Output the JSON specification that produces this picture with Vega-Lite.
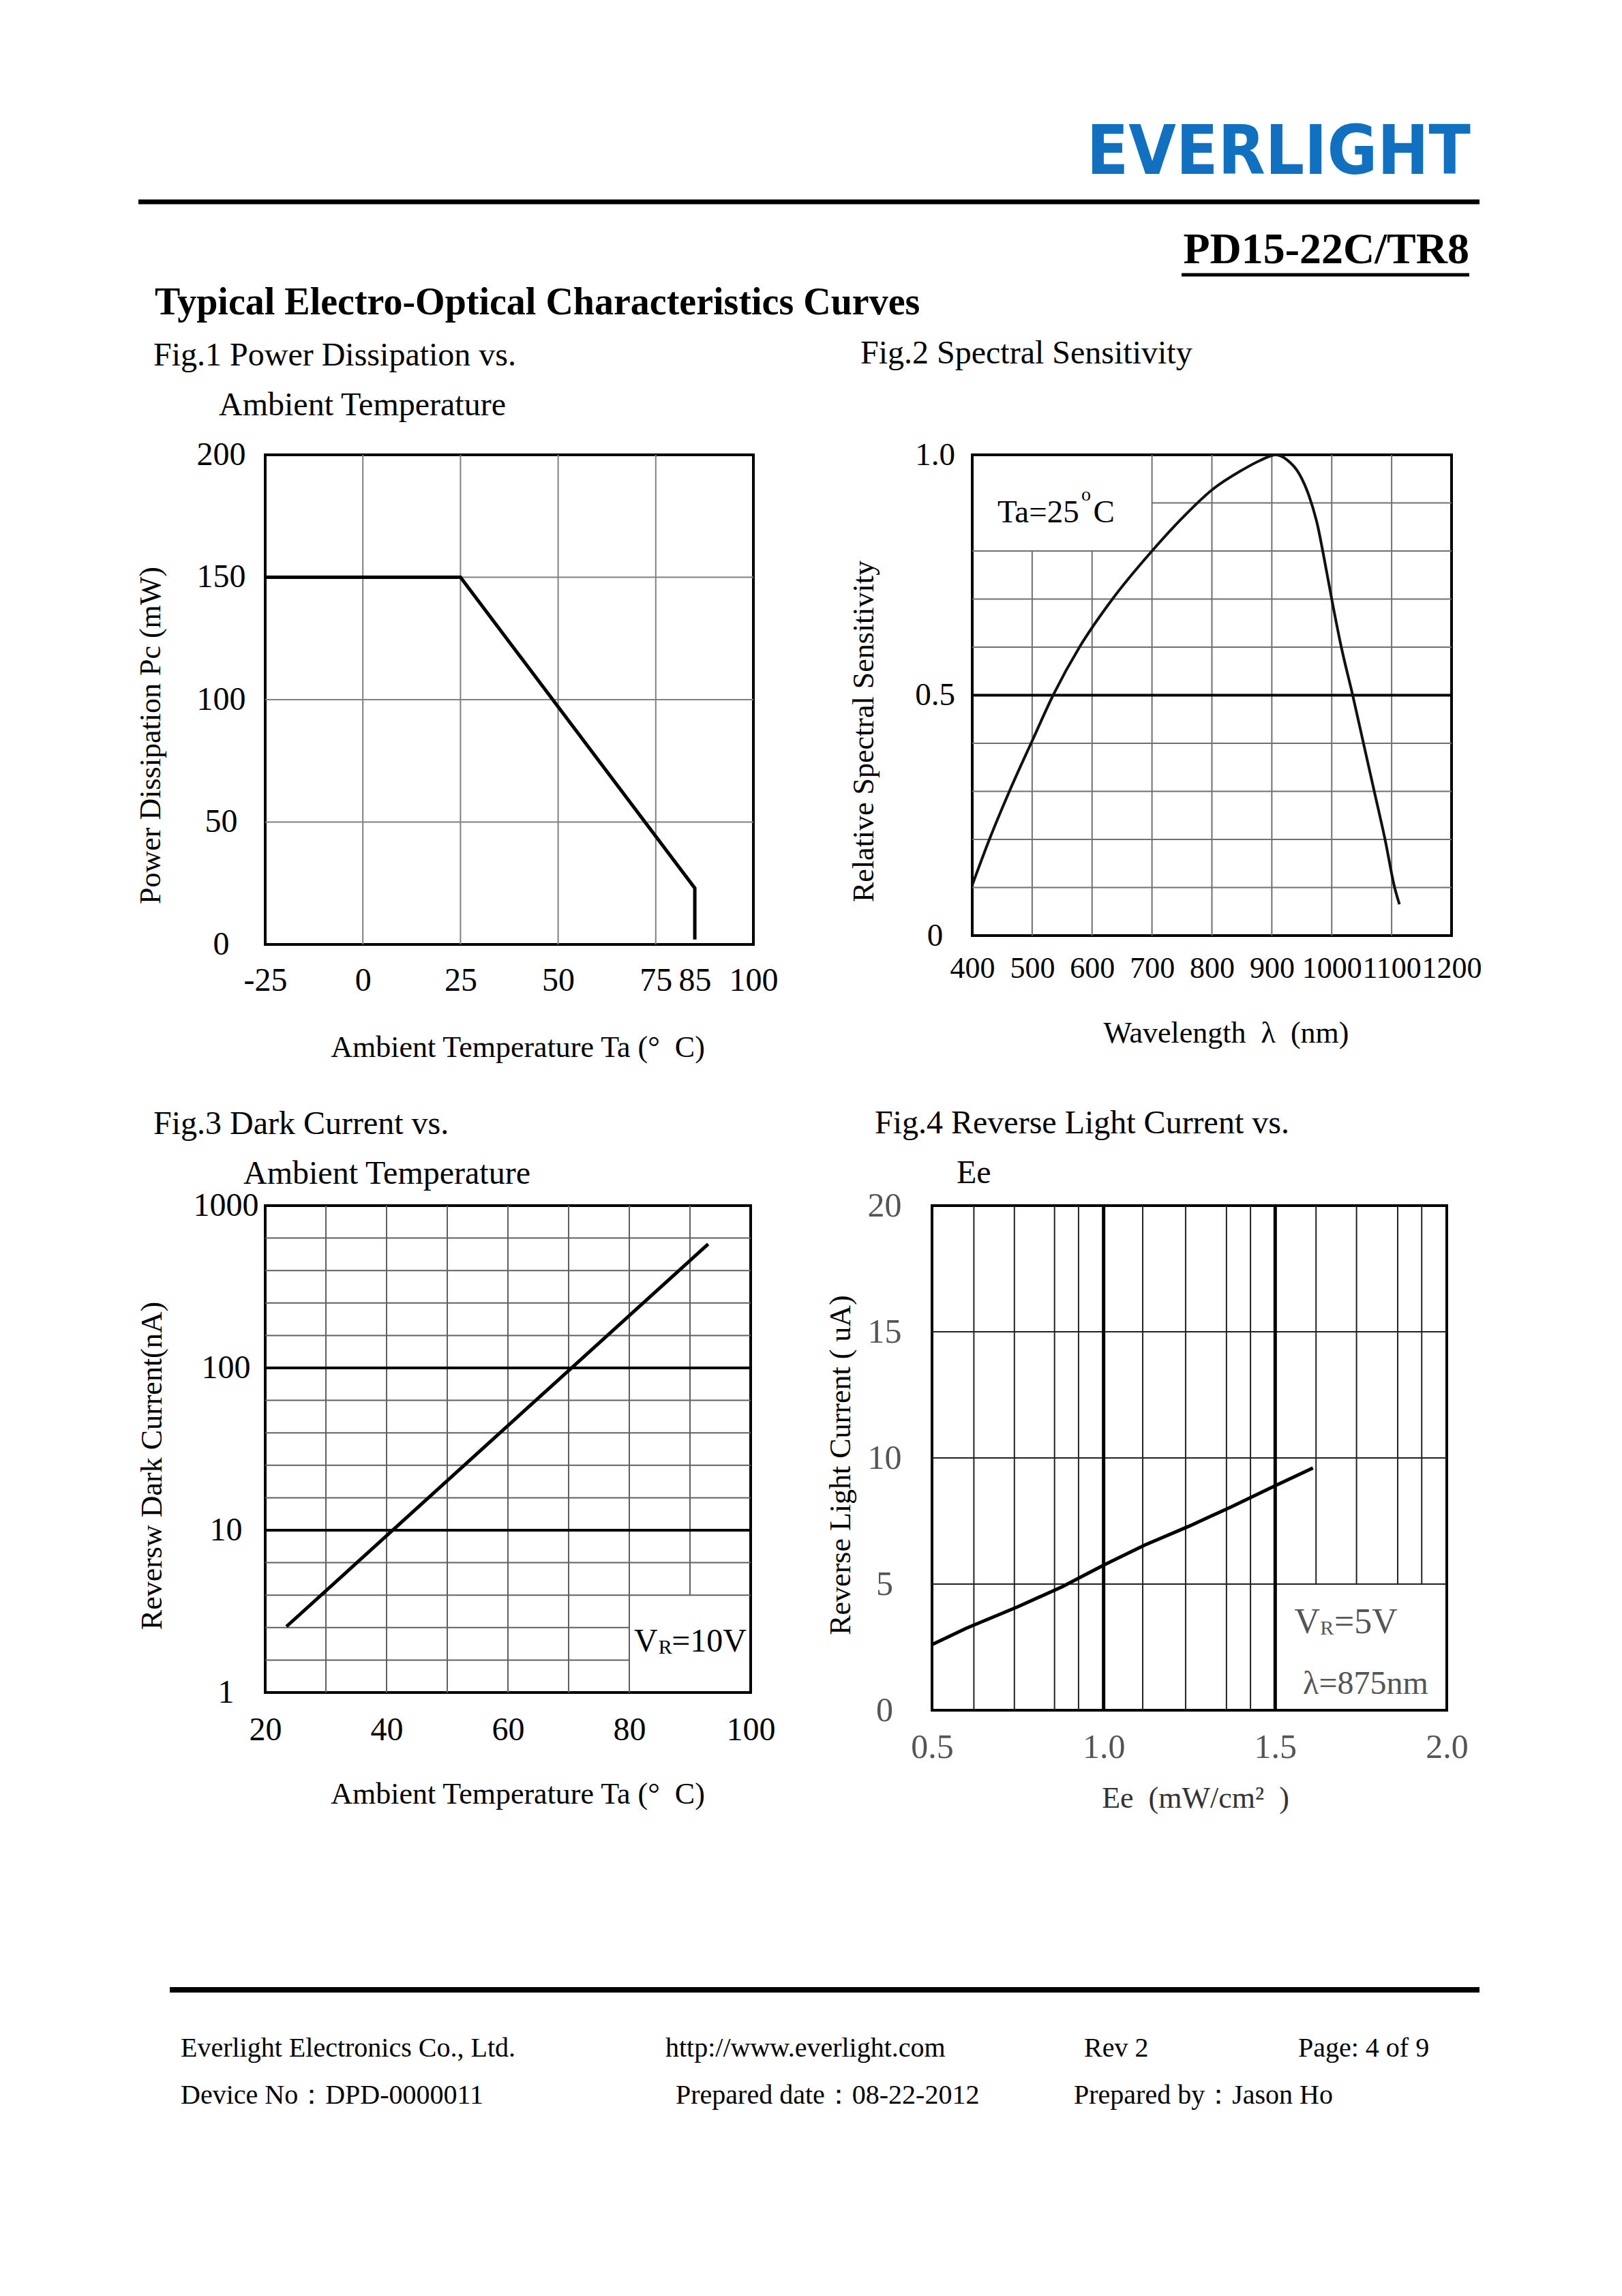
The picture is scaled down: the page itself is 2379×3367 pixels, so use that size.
{
  "$schema": "https://vega.github.io/schema/vega-lite/v6.json",
  "background": "white",
  "padding": {"left": 197, "top": 160, "right": 10, "bottom": 10},
  "spacing": 13,
  "config": {
    "view": {"stroke": null},
    "font": "Liberation Serif",
    "axis": {"domain": false, "ticks": false, "tickSize": 0, "grid": false, "labelFont": "Liberation Serif", "titleFont": "Liberation Serif", "labelColor": "black", "titleColor": "black", "titleFontWeight": "normal", "labelFontSize": 48, "titleFontSize": 44, "labelFlush": false, "labelOverlap": false, "labelBound": false},
    "title": {"font": "Liberation Serif", "fontSize": 48, "fontWeight": "normal", "anchor": "start", "frame": "group", "color": "black", "lineHeight": 73, "baseline": "bottom"},
    "text": {"font": "Liberation Serif"}
  },
  "vconcat": [
    {
      "width": 1781, "height": 320,
      "layer": [
        {"data": {"values": [{"t": "EVERLIGHT"}]},
         "mark": {"type": "text", "align": "right", "baseline": "alphabetic", "font": "Liberation Sans Narrow, DejaVu Sans Condensed, sans-serif", "fontWeight": "bold", "fontSize": 100, "color": "#1170c0"},
         "encoding": {"text": {"field": "t"},
           "x": {"datum": 1768, "scale": {"domain": [0, 1781], "nice": false, "zero": false}, "axis": null},
           "y": {"datum": 95, "scale": {"domain": [0, 320], "nice": false, "zero": false, "reverse": true}, "axis": null}}},
        {"data": {"values": [{"t": "top rule"}]},
         "mark": {"type": "rule", "color": "black", "strokeWidth": 7},
         "encoding": {"x": {"datum": -186}, "x2": {"datum": 1781}, "y": {"datum": 136}}},
        {"data": {"values": [{"t": "PD15-22C/TR8"}]},
         "mark": {"type": "text", "align": "right", "baseline": "alphabetic", "font": "Liberation Serif", "fontWeight": "bold", "fontSize": 64, "color": "black"},
         "encoding": {"text": {"field": "t"}, "x": {"datum": 1766}, "y": {"datum": 226}}},
        {"data": {"values": [{"t": "underline"}]},
         "mark": {"type": "rule", "color": "black", "strokeWidth": 5},
         "encoding": {"x": {"datum": 1344}, "x2": {"datum": 1766}, "y": {"datum": 243}}},
        {"data": {"values": [{"t": "Typical Electro-Optical Characteristics Curves"}]},
         "mark": {"type": "text", "align": "left", "baseline": "alphabetic", "font": "Liberation Serif", "fontWeight": "bold", "fontSize": 56, "color": "black"},
         "encoding": {"text": {"field": "t"}, "x": {"datum": -162}, "y": {"datum": 301}}}
      ]
    },
    {
      "spacing": 62,
      "vconcat": [
        {
          "spacing": 100,
          "hconcat": [
            {
              "width": 716, "height": 718,
              "view": {"stroke": "black", "strokeWidth": 4},
              "title": {"text": ["Fig.1 Power Dissipation vs.", "\u200b\u00a0\u00a0\u00a0\u00a0\u00a0\u00a0\u00a0\u00a0Ambient Temperature"], "dx": -164, "offset": 24},
              "layer": [
                {"data": {"values": [{"x": 0}, {"x": 25}, {"x": 50}, {"x": 75}]},
                 "mark": {"type": "rule", "color": "#808080", "strokeWidth": 2},
                 "encoding": {"x": {"field": "x", "type": "quantitative", "scale": {"domain": [-25, 100], "nice": false, "zero": false},
                   "axis": {"title": "Ambient Temperature Ta (\u00b0\u00a0\u00a0C)", "values": [-25, 0, 25, 50, 75, 85, 100], "labelExpr": "'' + datum.value", "labelPadding": 29, "titlePadding": 52, "titleX": 370}}}},
                {"data": {"values": [{"y": 50}, {"y": 100}, {"y": 150}]},
                 "mark": {"type": "rule", "color": "#808080", "strokeWidth": 2},
                 "encoding": {"y": {"field": "y", "type": "quantitative", "scale": {"domain": [0, 200], "nice": false, "zero": false},
                   "axis": {"title": "Power Dissipation Pc (mW)", "values": [0, 50, 100, 150, 200], "labelAlign": "center", "labelPadding": 65, "titlePadding": 45, "titleY": 411}}}},
                {"data": {"values": [{"i": 1, "x": -25, "y": 150}, {"i": 2, "x": 25, "y": 150}, {"i": 3, "x": 85, "y": 23}, {"i": 4, "x": 85, "y": 2}]},
                 "mark": {"type": "line", "color": "black", "strokeWidth": 5},
                 "encoding": {"x": {"field": "x", "type": "quantitative", "scale": {"domain": [-25, 100], "nice": false, "zero": false}},
                   "y": {"field": "y", "type": "quantitative", "scale": {"domain": [0, 200], "nice": false, "zero": false}},
                   "order": {"field": "i"}}}
              ]
            },
            {
              "width": 703, "height": 705,
              "view": {"stroke": "black", "strokeWidth": 4},
              "title": {"text": "Fig.2 Spectral Sensitivity", "dx": -164, "offset": 100},
              "layer": [
                {"data": {"values": [{"x": 500, "y": 0, "y2": 0.8}, {"x": 600, "y": 0, "y2": 0.8}, {"x": 700, "y": 0, "y2": 1}, {"x": 800, "y": 0, "y2": 1}, {"x": 900, "y": 0, "y2": 1}, {"x": 1000, "y": 0, "y2": 1}, {"x": 1100, "y": 0, "y2": 1}]},
                 "mark": {"type": "rule", "color": "#707070", "strokeWidth": 2},
                 "encoding": {"x": {"field": "x", "type": "quantitative", "scale": {"domain": [400, 1200], "nice": false, "zero": false},
                   "axis": {"title": "Wavelength\u00a0\u00a0\u03bb\u00a0\u00a0(nm)", "values": [400, 500, 600, 700, 800, 900, 1000, 1100, 1200], "format": "d", "labelFontSize": 44, "labelPadding": 26, "titlePadding": 51, "titleX": 372}},
                   "y": {"field": "y", "type": "quantitative", "scale": {"domain": [0, 1], "nice": false, "zero": false},
                   "axis": {"title": "Relative Spectral Sensitivity", "values": [0, 0.5, 1], "labelExpr": "datum.value === 0 ? '0' : format(datum.value, '.1f')", "labelFontSize": 47, "labelAlign": "center", "labelPadding": 55, "titlePadding": 52, "titleY": 405}},
                   "y2": {"field": "y2"}}},
                {"data": {"values": [{"y": 0.1, "x": 400, "x2": 1200}, {"y": 0.2, "x": 400, "x2": 1200}, {"y": 0.3, "x": 400, "x2": 1200}, {"y": 0.4, "x": 400, "x2": 1200}, {"y": 0.6, "x": 400, "x2": 1200}, {"y": 0.7, "x": 400, "x2": 1200}, {"y": 0.8, "x": 400, "x2": 1200}, {"y": 0.9, "x": 700, "x2": 1200}]},
                 "mark": {"type": "rule", "color": "#707070", "strokeWidth": 2},
                 "encoding": {"y": {"field": "y", "type": "quantitative", "scale": {"domain": [0, 1], "nice": false, "zero": false}},
                   "x": {"field": "x", "type": "quantitative", "scale": {"domain": [400, 1200], "nice": false, "zero": false}},
                   "x2": {"field": "x2"}}},
                {"data": {"values": [{"y": 0.5}]},
                 "mark": {"type": "rule", "color": "black", "strokeWidth": 4},
                 "encoding": {"y": {"field": "y", "type": "quantitative", "scale": {"domain": [0, 1], "nice": false, "zero": false}}}},
                {"data": {"values": [
                  {"x": 400, "y": 0.105}, {"x": 428.6, "y": 0.2}, {"x": 462, "y": 0.3}, {"x": 500, "y": 0.405}, {"x": 535, "y": 0.5}, {"x": 579, "y": 0.6}, {"x": 634, "y": 0.7}, {"x": 700, "y": 0.8}, {"x": 750, "y": 0.868}, {"x": 800, "y": 0.927}, {"x": 850, "y": 0.968}, {"x": 880, "y": 0.988}, {"x": 907, "y": 1.0}, {"x": 925, "y": 0.99}, {"x": 946, "y": 0.96}, {"x": 962, "y": 0.915}, {"x": 977, "y": 0.85}, {"x": 985, "y": 0.8}, {"x": 1000, "y": 0.7}, {"x": 1016, "y": 0.6}, {"x": 1035, "y": 0.5}, {"x": 1053, "y": 0.4}, {"x": 1071, "y": 0.3}, {"x": 1089, "y": 0.2}, {"x": 1105, "y": 0.1}, {"x": 1113, "y": 0.065}]},
                 "mark": {"type": "line", "color": "#111111", "strokeWidth": 4, "interpolate": "monotone"},
                 "encoding": {"x": {"field": "x", "type": "quantitative", "scale": {"domain": [400, 1200], "nice": false, "zero": false}},
                   "y": {"field": "y", "type": "quantitative", "scale": {"domain": [0, 1], "nice": false, "zero": false}}}},
                {"data": {"values": [{"t": "Ta=25"}]},
                 "mark": {"type": "text", "align": "left", "baseline": "alphabetic", "fontSize": 47, "color": "black"},
                 "encoding": {"text": {"field": "t"}, "x": {"datum": 442}, "y": {"datum": 0.86}}},
                {"data": {"values": [{"t": "o"}]},
                 "mark": {"type": "text", "align": "left", "baseline": "alphabetic", "fontSize": 28, "color": "black"},
                 "encoding": {"text": {"field": "t"}, "x": {"datum": 582}, "y": {"datum": 0.905}}},
                {"data": {"values": [{"t": "C"}]},
                 "mark": {"type": "text", "align": "left", "baseline": "alphabetic", "fontSize": 47, "color": "black"},
                 "encoding": {"text": {"field": "t"}, "x": {"datum": 602}, "y": {"datum": 0.86}}}
              ]
            }
          ]
        },
        {
          "spacing": 70,
          "hconcat": [
            {
              "width": 712, "height": 714,
              "view": {"stroke": "black", "strokeWidth": 4},
              "title": {"text": ["Fig.3 Dark Current vs.", "\u200b\u00a0\u00a0\u00a0\u00a0\u00a0\u00a0\u00a0\u00a0\u00a0\u00a0\u00a0Ambient Temperature"], "dx": -164, "offset": -2},
              "layer": [
                {"data": {"values": [{"x": 30, "y": 1, "y2": 1000}, {"x": 40, "y": 1, "y2": 1000}, {"x": 50, "y": 1, "y2": 1000}, {"x": 60, "y": 1, "y2": 1000}, {"x": 70, "y": 1, "y2": 1000}, {"x": 80, "y": 1, "y2": 1000}, {"x": 90, "y": 3.981, "y2": 1000}]},
                 "mark": {"type": "rule", "color": "#606060", "strokeWidth": 2},
                 "encoding": {"x": {"field": "x", "type": "quantitative", "scale": {"domain": [20, 100], "nice": false, "zero": false},
                   "axis": {"title": "Ambient Temperature Ta (\u00b0\u00a0\u00a0C)", "values": [20, 40, 60, 80, 100], "labelPadding": 31, "titlePadding": 48, "titleX": 370}},
                   "y": {"field": "y", "type": "quantitative", "scale": {"type": "log", "domain": [1, 1000], "nice": false},
                   "axis": {"title": "Reversw Dark Current(nA)", "values": [1, 10, 100, 1000], "format": "d", "labelAlign": "center", "labelPadding": 58, "titlePadding": 38, "titleY": 381}},
                   "y2": {"field": "y2"}}},
                {"data": {"values": [{"y": 1.585, "x": 20, "x2": 80}, {"y": 2.512, "x": 20, "x2": 80}, {"y": 3.981, "x": 20, "x2": 100}, {"y": 6.31, "x": 20, "x2": 100}, {"y": 15.85, "x": 20, "x2": 100}, {"y": 25.12, "x": 20, "x2": 100}, {"y": 39.81, "x": 20, "x2": 100}, {"y": 63.1, "x": 20, "x2": 100}, {"y": 158.5, "x": 20, "x2": 100}, {"y": 251.2, "x": 20, "x2": 100}, {"y": 398.1, "x": 20, "x2": 100}, {"y": 631, "x": 20, "x2": 100}]},
                 "mark": {"type": "rule", "color": "#606060", "strokeWidth": 2},
                 "encoding": {"y": {"field": "y", "type": "quantitative", "scale": {"type": "log", "domain": [1, 1000], "nice": false}},
                   "x": {"field": "x", "type": "quantitative", "scale": {"domain": [20, 100], "nice": false, "zero": false}},
                   "x2": {"field": "x2"}}},
                {"data": {"values": [{"y": 10}, {"y": 100}]},
                 "mark": {"type": "rule", "color": "black", "strokeWidth": 4},
                 "encoding": {"y": {"field": "y", "type": "quantitative", "scale": {"type": "log", "domain": [1, 1000], "nice": false}}}},
                {"data": {"values": [{"x": 23.5, "y": 2.55}, {"x": 93, "y": 580}]},
                 "mark": {"type": "line", "color": "black", "strokeWidth": 5},
                 "encoding": {"x": {"field": "x", "type": "quantitative", "scale": {"domain": [20, 100], "nice": false, "zero": false}},
                   "y": {"field": "y", "type": "quantitative", "scale": {"type": "log", "domain": [1, 1000], "nice": false}}}},
                {"data": {"values": [{"t": "V"}]},
                 "mark": {"type": "text", "align": "left", "baseline": "alphabetic", "fontSize": 48, "color": "black"},
                 "encoding": {"text": {"field": "t"}, "x": {"datum": 80.8}, "y": {"datum": 1.78}}},
                {"data": {"values": [{"t": "R"}]},
                 "mark": {"type": "text", "align": "left", "baseline": "alphabetic", "fontSize": 30, "color": "black"},
                 "encoding": {"text": {"field": "t"}, "x": {"datum": 84.8}, "y": {"datum": 1.74}}},
                {"data": {"values": [{"t": "=10V"}]},
                 "mark": {"type": "text", "align": "left", "baseline": "alphabetic", "fontSize": 48, "color": "black"},
                 "encoding": {"text": {"field": "t"}, "x": {"datum": 87.0}, "y": {"datum": 1.78}}}
              ]
            },
            {
              "width": 755, "height": 740,
              "view": {"stroke": "black", "strokeWidth": 4},
              "title": {"text": ["Fig.4 Reverse Light Current vs.", "\u200b\u00a0\u00a0\u00a0\u00a0\u00a0\u00a0\u00a0\u00a0\u00a0\u00a0Ee"], "dx": -84, "offset": -2},
              "layer": [
                {"data": {"values": [{"x": 0.622, "y": 0, "y2": 20}, {"x": 0.74, "y": 0, "y2": 20}, {"x": 0.857, "y": 0, "y2": 20}, {"x": 0.927, "y": 0, "y2": 20}, {"x": 1.114, "y": 0, "y2": 20}, {"x": 1.239, "y": 0, "y2": 20}, {"x": 1.358, "y": 0, "y2": 20}, {"x": 1.428, "y": 0, "y2": 20}, {"x": 1.619, "y": 5, "y2": 20}, {"x": 1.737, "y": 5, "y2": 20}, {"x": 1.857, "y": 5, "y2": 20}, {"x": 1.927, "y": 5, "y2": 20}]},
                 "mark": {"type": "rule", "color": "#222222", "strokeWidth": 2},
                 "encoding": {"x": {"field": "x", "type": "quantitative", "scale": {"domain": [0.5, 2.0], "nice": false, "zero": false},
                   "axis": {"title": "Ee\u00a0\u00a0(mW/cm\u00b2\u00a0\u00a0)", "titleColor": "#333333", "values": [0.5, 1.0, 1.5, 2.0], "format": ".1f", "labelFontSize": 50, "labelColor": "#555555", "labelPadding": 29, "titlePadding": 28, "titleX": 386}},
                   "y": {"field": "y", "type": "quantitative", "scale": {"domain": [0, 20], "nice": false, "zero": false},
                   "axis": {"title": "Reverse Light Current ( uA)", "values": [0, 5, 10, 15, 20], "labelFontSize": 50, "labelColor": "#555555", "labelAlign": "center", "labelPadding": 70, "titlePadding": 17, "titleY": 380}},
                   "y2": {"field": "y2"}}},
                {"data": {"values": [{"y": 5}, {"y": 10}, {"y": 15}]},
                 "mark": {"type": "rule", "color": "#222222", "strokeWidth": 2},
                 "encoding": {"y": {"field": "y", "type": "quantitative", "scale": {"domain": [0, 20], "nice": false, "zero": false}}}},
                {"data": {"values": [{"x": 1.0}, {"x": 1.5}]},
                 "mark": {"type": "rule", "color": "black", "strokeWidth": 5},
                 "encoding": {"x": {"field": "x", "type": "quantitative", "scale": {"domain": [0.5, 2.0], "nice": false, "zero": false}}}},
                {"data": {"values": [{"x": 0.5, "y": 2.6}, {"x": 0.6, "y": 3.25}, {"x": 0.75, "y": 4.1}, {"x": 0.88, "y": 4.9}, {"x": 1.0, "y": 5.75}, {"x": 1.12, "y": 6.55}, {"x": 1.25, "y": 7.3}, {"x": 1.37, "y": 8.05}, {"x": 1.5, "y": 8.9}, {"x": 1.61, "y": 9.6}]},
                 "mark": {"type": "line", "color": "black", "strokeWidth": 5},
                 "encoding": {"x": {"field": "x", "type": "quantitative", "scale": {"domain": [0.5, 2.0], "nice": false, "zero": false}},
                   "y": {"field": "y", "type": "quantitative", "scale": {"domain": [0, 20], "nice": false, "zero": false}}}},
                {"data": {"values": [{"t": "V"}]},
                 "mark": {"type": "text", "align": "left", "baseline": "alphabetic", "fontSize": 52, "color": "#555555"},
                 "encoding": {"text": {"field": "t"}, "x": {"datum": 1.556}, "y": {"datum": 3.06}}},
                {"data": {"values": [{"t": "R"}]},
                 "mark": {"type": "text", "align": "left", "baseline": "alphabetic", "fontSize": 30, "color": "#555555"},
                 "encoding": {"text": {"field": "t"}, "x": {"datum": 1.631}, "y": {"datum": 3.0}}},
                {"data": {"values": [{"t": "=5V"}]},
                 "mark": {"type": "text", "align": "left", "baseline": "alphabetic", "fontSize": 52, "color": "#555555"},
                 "encoding": {"text": {"field": "t"}, "x": {"datum": 1.672}, "y": {"datum": 3.06}}},
                {"data": {"values": [{"t": "\u03bb=875nm"}]},
                 "mark": {"type": "text", "align": "left", "baseline": "alphabetic", "fontSize": 48, "color": "#555555"},
                 "encoding": {"text": {"field": "t"}, "x": {"datum": 1.581}, "y": {"datum": 0.64}}}
              ]
            }
          ]
        }
      ]
    },
    {
      "width": 1781, "height": 440,
      "layer": [
        {"data": {"values": [{"t": "footer rule"}]},
         "mark": {"type": "rule", "color": "black", "strokeWidth": 8},
         "encoding": {"x": {"datum": -140, "scale": {"domain": [0, 1781], "nice": false, "zero": false}, "axis": null}, "x2": {"datum": 1781},
           "y": {"datum": 244, "scale": {"domain": [0, 440], "nice": false, "zero": false, "reverse": true}, "axis": null}}},
        {"data": {"values": [{"t": "Everlight Electronics Co., Ltd."}]},
         "mark": {"type": "text", "align": "left", "baseline": "alphabetic", "fontSize": 40, "color": "black"},
         "encoding": {"text": {"field": "t"}, "x": {"datum": -124}, "y": {"datum": 342}}},
        {"data": {"values": [{"t": "http://www.everlight.com"}]},
         "mark": {"type": "text", "align": "left", "baseline": "alphabetic", "fontSize": 40, "color": "black"},
         "encoding": {"text": {"field": "t"}, "x": {"datum": 587}, "y": {"datum": 342}}},
        {"data": {"values": [{"t": "Rev 2"}]},
         "mark": {"type": "text", "align": "left", "baseline": "alphabetic", "fontSize": 40, "color": "black"},
         "encoding": {"text": {"field": "t"}, "x": {"datum": 1201}, "y": {"datum": 342}}},
        {"data": {"values": [{"t": "Page: 4 of 9"}]},
         "mark": {"type": "text", "align": "left", "baseline": "alphabetic", "fontSize": 40, "color": "black"},
         "encoding": {"text": {"field": "t"}, "x": {"datum": 1515}, "y": {"datum": 342}}},
        {"data": {"values": [{"t": "Device No\uff1aDPD-0000011"}]},
         "mark": {"type": "text", "align": "left", "baseline": "alphabetic", "fontSize": 40, "color": "black"},
         "encoding": {"text": {"field": "t"}, "x": {"datum": -124}, "y": {"datum": 411}}},
        {"data": {"values": [{"t": "Prepared date\uff1a08-22-2012"}]},
         "mark": {"type": "text", "align": "left", "baseline": "alphabetic", "fontSize": 40, "color": "black"},
         "encoding": {"text": {"field": "t"}, "x": {"datum": 602}, "y": {"datum": 411}}},
        {"data": {"values": [{"t": "Prepared by\uff1aJason Ho"}]},
         "mark": {"type": "text", "align": "left", "baseline": "alphabetic", "fontSize": 40, "color": "black"},
         "encoding": {"text": {"field": "t"}, "x": {"datum": 1186}, "y": {"datum": 411}}}
      ]
    }
  ]
}
